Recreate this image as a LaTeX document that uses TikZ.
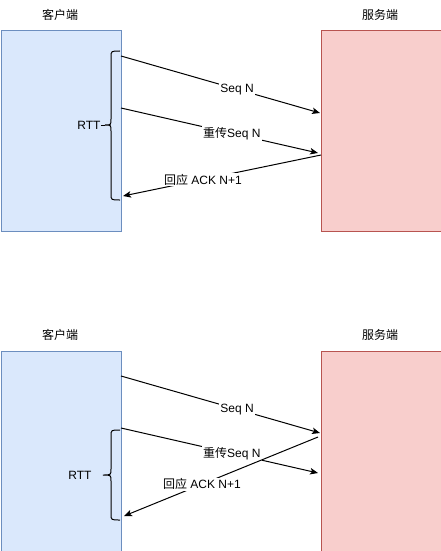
\documentclass[tikz,border=0pt]{standalone}
\usepackage{fontspec}
\setmainfont{Liberation Sans}
\newfontfamily\cjk{Noto Sans CJK SC}
\usetikzlibrary{arrows.meta}
\definecolor{cfill}{HTML}{DAE8FC}
\definecolor{cline}{HTML}{6C8EBF}
\definecolor{sfill}{HTML}{F8CECC}
\definecolor{sline}{HTML}{B85450}
\tikzset{
  cbox/.style={draw=cline, fill=cfill, line width=1pt, minimum width=120pt, minimum height=200pt, anchor=north west, inner sep=0pt},
  sbox/.style={draw=sline, fill=sfill, line width=1pt, minimum width=120pt, minimum height=200pt, anchor=north west, inner sep=0pt},
  msg/.style={line width=1pt, -{Stealth[length=8pt,width=6.5pt,inset=2pt]}},
  lbl/.style={fill=white, inner sep=1pt, text=black},
  ttl/.style={inner sep=0pt},
  bracepath/.style={line width=1pt, black}
}
\begin{document}
\begin{tikzpicture}[x=1pt,y=-1pt,font=\fontsize{12}{14}\selectfont]
\useasboundingbox (0,0) rectangle (441,551);

% ---------- top diagram ----------
\node[cbox] (c1) at (0.5,30.5) {};
\node[sbox] (s1) at (320.5,30.5) {};
\node[ttl] (tc1) at (60,15) {\cjk 客户端};
\node[ttl] (ts1) at (380,15) {\cjk 服务端};

\coordinate (a1s) at (121,56);
\coordinate (a1e) at (320,113);
\coordinate (a2s) at (121,108);
\coordinate (a2e) at (318,153);
\coordinate (a3s) at (321,155);
\coordinate (a3e) at (123,196);

\draw[msg] (a1s) -- node[lbl,pos=0.583] (l1) {Seq N} (a1e);
\draw[msg] (a2s) -- node[lbl,pos=0.563] (l2) {{\cjk 重传}Seq N} (a2e);
\draw[msg] (a3s) -- node[lbl,pos=0.596] (l3) {{\cjk 回应} ACK N+1} (a3e);

\node[inner sep=0pt] (rtt1) at (89,125) {RTT};
\coordinate (b1tip) at (105,125);
\draw[bracepath] (120,51) .. controls (111,51) .. (111,57) -- (111,119)
  .. controls (111,125) .. (b1tip) .. controls (111,125) .. (111,131)
  -- (111,194) .. controls (111,200) .. (120,200);
\draw[bracepath] (rtt1.east) -- (b1tip);

% ---------- bottom diagram ----------
\node[cbox] (c2) at (0.5,350.5) {};
\node[sbox] (s2) at (320.5,350.5) {};
\node[ttl] (tc2) at (60,335) {\cjk 客户端};
\node[ttl] (ts2) at (380,335) {\cjk 服务端};

\coordinate (b1s) at (121,376);
\coordinate (b1e) at (320,433);
\coordinate (b2s) at (121,428);
\coordinate (b2e) at (318,473);
\coordinate (b3s) at (318,437);
\coordinate (b3e) at (124,516);

\draw[msg] (b1s) -- node[lbl,pos=0.583] (m1) {Seq N} (b1e);
\draw[msg] (b2s) -- node[lbl,pos=0.563] (m2) {{\cjk 重传}Seq N} (b2e);
\draw[msg] (b3s) -- node[lbl,pos=0.598] (m3) {{\cjk 回应} ACK N+1} (b3e);

\node[inner sep=0pt] (rtt2) at (80,475) {RTT};
\coordinate (b2tip) at (103,475);
\draw[bracepath] (120,430) .. controls (111,430) .. (111,436) -- (111,469)
  .. controls (111,475) .. (b2tip) .. controls (111,475) .. (111,481)
  -- (111,514) .. controls (111,520) .. (120,520);
\end{tikzpicture}
\end{document}
